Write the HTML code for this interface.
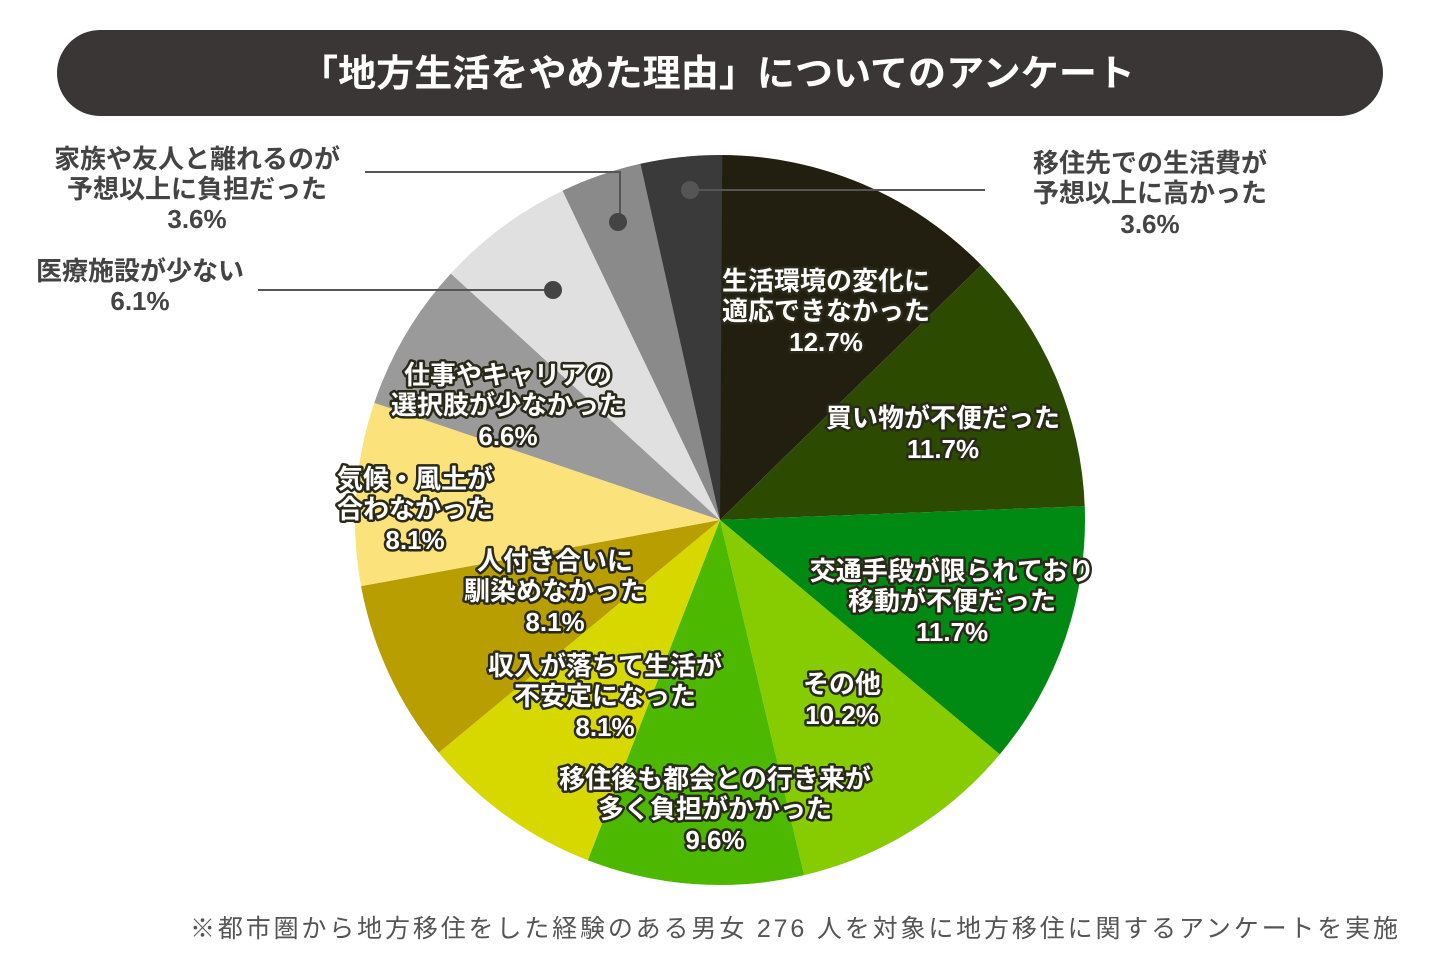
<!DOCTYPE html>
<html><head><meta charset="utf-8"><style>
body{margin:0;background:#fff;}
svg text{font-family:"Liberation Sans","Noto Sans CJK JP",sans-serif;}
.in{fill:#fff;stroke:#2a2a1a;stroke-width:5px;paint-order:stroke;stroke-linejoin:round;font-size:26px;font-weight:bold;text-anchor:middle;}
.out{fill:#444;font-size:26px;text-anchor:middle;font-weight:bold;}
</style></head><body>
<svg id="s" width="1440" height="965" viewBox="0 0 1440 965" xmlns="http://www.w3.org/2000/svg">
<rect x="57" y="30" width="1326" height="86" rx="43" fill="#3a3636"/>
<text x="300" y="86" fill="#fff" font-size="37" font-weight="bold" textLength="835" lengthAdjust="spacingAndGlyphs">「地方生活をやめた理由」についてのアンケート</text>
<g id="pie"></g>
<g stroke="#555" stroke-width="2" fill="none">
<polyline points="365,172 620,172 620,220"/>
<line x1="690" y1="190" x2="985" y2="190"/>
<line x1="258" y1="290" x2="553" y2="290"/>
</g>
<circle cx="618" cy="222" r="9" fill="#444"/>
<circle cx="690" cy="190" r="9" fill="#555"/>
<circle cx="553" cy="290" r="9" fill="#444"/>
<text class="out"><tspan x="197" y="168">家族や友人と離れるのが</tspan><tspan x="197" y="198">予想以上に負担だった</tspan><tspan x="197" y="228">3.6%</tspan></text>
<text class="out"><tspan x="1150" y="172">移住先での生活費が</tspan><tspan x="1150" y="202">予想以上に高かった</tspan><tspan x="1150" y="233">3.6%</tspan></text>
<text class="out"><tspan x="140" y="280">医療施設が少ない</tspan><tspan x="140" y="310">6.1%</tspan></text>
<text class="in"><tspan x="826" y="290">生活環境の変化に</tspan><tspan x="826" y="320">適応できなかった</tspan><tspan x="826" y="351">12.7%</tspan></text>
<text class="in"><tspan x="943" y="427">買い物が不便だった</tspan><tspan x="943" y="458">11.7%</tspan></text>
<text class="in"><tspan x="952" y="580">交通手段が限られており</tspan><tspan x="952" y="610">移動が不便だった</tspan><tspan x="952" y="641">11.7%</tspan></text>
<text class="in"><tspan x="842" y="693">その他</tspan><tspan x="842" y="724">10.2%</tspan></text>
<text class="in"><tspan x="715" y="788">移住後も都会との行き来が</tspan><tspan x="715" y="818">多く負担がかかった</tspan><tspan x="715" y="849">9.6%</tspan></text>
<text class="in"><tspan x="605" y="675">収入が落ちて生活が</tspan><tspan x="605" y="705">不安定になった</tspan><tspan x="605" y="736">8.1%</tspan></text>
<text class="in"><tspan x="555" y="570">人付き合いに</tspan><tspan x="555" y="600">馴染めなかった</tspan><tspan x="555" y="631">8.1%</tspan></text>
<text class="in"><tspan x="415" y="488">気候・風土が</tspan><tspan x="415" y="518">合わなかった</tspan><tspan x="415" y="549">8.1%</tspan></text>
<text class="in"><tspan x="508" y="384">仕事やキャリアの</tspan><tspan x="508" y="414">選択肢が少なかった</tspan><tspan x="508" y="445">6.6%</tspan></text>
<text x="190" y="937" fill="#555" font-size="25" textLength="1208" lengthAdjust="spacing">※都市圏から地方移住をした経験のある男女 276 人を対象に地方移住に関するアンケートを実施</text>
</svg>
<script>
var d=[[12.7,"#231f10"],[11.7,"#2c4a00"],[11.7,"#008a14"],[10.2,"#86cc00"],[9.6,"#4cb800"],[8.1,"#d6d800"],[8.1,"#b89e00"],[8.1,"#fbe27a"],[6.6,"#9a9a9a"],[6.1,"#e0e0e0"],[3.6,"#8a8a8a"],[3.6,"#3a3a3a"]];
var cx=720,cy=520,r=365,a=0,g=document.getElementById("pie"),h="";
d.forEach(function(s){var a2=a+s[0]/100*2*Math.PI;
var x1=cx+r*Math.sin(a),y1=cy-r*Math.cos(a),x2=cx+r*Math.sin(a2),y2=cy-r*Math.cos(a2);
h+='<path d="M'+cx+','+cy+'L'+x1+','+y1+'A'+r+','+r+' 0 '+((a2-a)>Math.PI?1:0)+',1 '+x2+','+y2+'Z" fill="'+s[1]+'"/>';a=a2;});
g.innerHTML=h;
</script>
</body></html>
